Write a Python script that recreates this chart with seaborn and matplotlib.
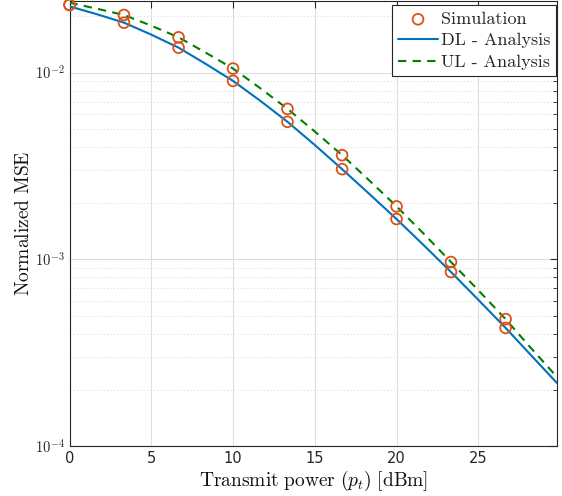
import numpy as np
import pandas as pd
import matplotlib
matplotlib.use("Agg")
import matplotlib.pyplot as plt
import matplotlib.ticker as mticker
import seaborn as sns

# ------------------------------
# Data
# ------------------------------
pt_sim = [0, 3.33, 6.67, 10, 13.33, 16.67, 20, 23.33, 26.67]
dl_sim = [0.0230, 0.01851, 0.01360, 0.00903, 0.00545, 0.00304, 0.001643, 0.000855, 0.000429]
ul_sim = [0.0231, 0.02035, 0.01545, 0.01051, 0.00639, 0.00361, 0.00192, 0.000967, 0.000478]

pt_line = [0, 1.67, 3.33, 5, 6.67, 8.33, 10, 11.67, 13.33, 15, 16.67,
           18.33, 20, 21.67, 23.33, 25, 26.67, 28.23, 29.8]
dl_line = [0.02262, 0.02055, 0.01851, 0.01597, 0.01360, 0.01113, 0.009028,
           0.007059, 0.005451, 0.004095, 0.003040, 0.002241, 0.001643,
           0.001188, 0.000855, 0.000607, 0.000429, 0.000306, 0.000218]
ul_line = [0.02367, 0.02199, 0.02035, 0.01784, 0.01545, 0.01279, 0.01051,
           0.008241, 0.006394, 0.004836, 0.003613, 0.002646, 0.001921,
           0.001369, 0.000967, 0.000683, 0.000478, 0.000334, 0.000235]

x_ticks = [0, 5, 10, 15, 20, 25]

sim_df = pd.DataFrame({"pt": pt_sim * 2, "mse": dl_sim + ul_sim})
dl_df = pd.DataFrame({"pt": pt_line, "mse": dl_line})
ul_df = pd.DataFrame({"pt": pt_line, "mse": ul_line})

# ------------------------------
# Style
# ------------------------------
sns.set_style("white")
plt.rcParams["mathtext.fontset"] = "cm"
plt.rcParams["font.family"] = ["DejaVu Sans"]

fig = plt.figure(figsize=(5.62, 4.96), dpi=100)
ax = fig.add_axes([0.1237, 0.1008, 0.867, 0.898])

axis_col = "#262626"
ax.set_yscale("log")
ax.set_xlim(0, 29.8)
ax.set_ylim(1e-4, 0.0243)

ax.grid(True, which="major", color="#dedede", linewidth=0.8, linestyle="-")
ax.grid(True, which="minor", axis="y", color="#dedede", linewidth=0.8, linestyle=(0, (1, 2)))
ax.set_axisbelow(True)

sns.lineplot(data=dl_df, x="pt", y="mse", ax=ax, color="#0072BD", linewidth=1.5,
             label="DL - Analysis", sort=False, estimator=None, zorder=3)
sns.lineplot(data=ul_df, x="pt", y="mse", ax=ax, color="#008000", linewidth=1.5,
             label="UL - Analysis", sort=False, estimator=None, zorder=3)
ax.lines[-1].set_dashes((4, 3))
sns.scatterplot(data=sim_df, x="pt", y="mse", ax=ax, marker="o", s=60,
                facecolor="none", edgecolor="#D95319", linewidth=1.3,
                label="Simulation", zorder=4, clip_on=False)

ax.set_xticks(x_ticks)
ax.xaxis.set_minor_locator(mticker.NullLocator())
ax.yaxis.set_major_locator(mticker.LogLocator(base=10, numticks=10))
ax.yaxis.set_minor_locator(mticker.LogLocator(base=10, subs=np.arange(2, 10), numticks=20))
ax.yaxis.set_minor_formatter(mticker.NullFormatter())
ax.yaxis.set_major_formatter(mticker.FuncFormatter(
    lambda v, p: r"$\mathsf{10^{%d}}$" % int(round(np.log10(v)))))

ax.tick_params(axis="both", which="both", direction="in", top=True, right=True,
               colors=axis_col, labelcolor=axis_col, labelsize=10.5)
ax.tick_params(axis="both", which="major", length=5, width=0.8)
ax.tick_params(axis="y", which="minor", length=3, width=0.6)
for s in ax.spines.values():
    s.set_color(axis_col)
    s.set_linewidth(0.8)

ax.set_xlabel(r"$\mathrm{Transmit\ power\ (}p_t\mathrm{)\ [dBm]}$", fontsize=14, color="#111111", labelpad=2)
ax.set_ylabel(r"$\mathrm{Normalized\ MSE}$", fontsize=14, color="#111111", labelpad=1)

# legend order: Simulation, DL, UL
h, l = ax.get_legend_handles_labels()
order = [l.index("Simulation"), l.index("DL - Analysis"), l.index("UL - Analysis")]
leg = ax.legend([h[i] for i in order],
                ["Simulation", "DL - Analysis", "UL - Analysis"],
                loc="upper right", bbox_to_anchor=(0.999, 0.99),
                prop={"family": "cmr10", "size": 13}, frameon=True, fancybox=False,
                edgecolor="#262626", framealpha=1, borderpad=0.35, labelspacing=0.32,
                handlelength=2.2, handletextpad=0.15, borderaxespad=0.0)
leg.get_frame().set_linewidth(0.8)

fig.savefig("out.png", dpi=100)
